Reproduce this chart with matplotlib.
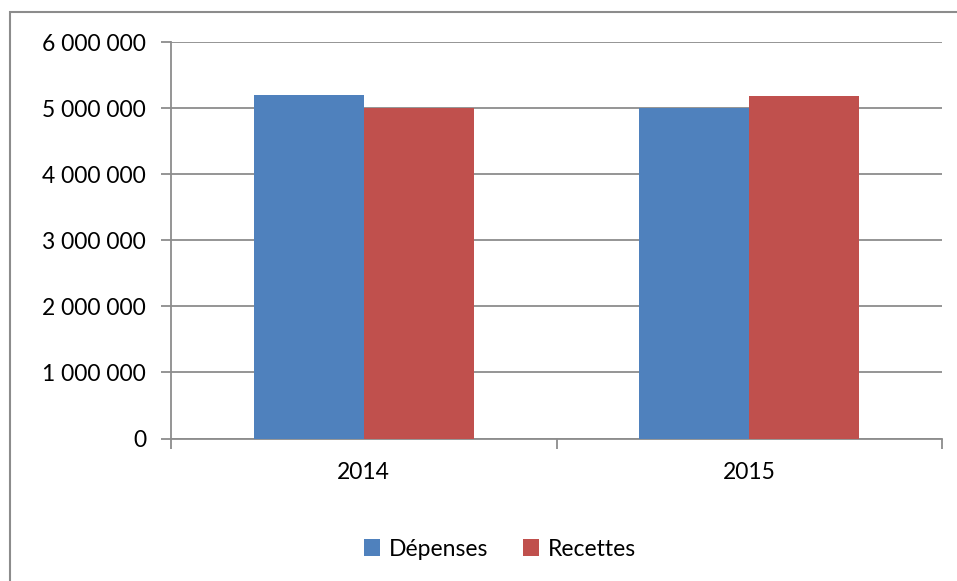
import numpy as np
import matplotlib
matplotlib.use('Agg')
import matplotlib.pyplot as plt
from matplotlib.patches import Rectangle
from matplotlib.ticker import FuncFormatter, FixedLocator

years = ['2014', '2015']
depenses = [5200000, 5005000]
recettes = [5010000, 5180000]
y_ticks = [0, 1000000, 2000000, 3000000, 4000000, 5000000, 6000000]

plt.rcParams['font.family'] = ['Lato', 'DejaVu Sans']

fig = plt.figure(figsize=(9.57, 5.81), dpi=100)
ax = fig.add_axes([171 / 957, 1 - 438.5 / 581, (942 - 171) / 957, (438.5 - 42.3) / 581])

# frame around the whole chart (cut off at right and bottom, like the original)
fig.patches.append(Rectangle((10 / 957, -0.1), 1.2, 1 - 12 / 581 + 0.1,
                             transform=fig.transFigure, fill=False,
                             edgecolor='#8c8c8c', linewidth=1.5, zorder=0))

x = np.arange(len(years))
w = 0.2857
ax.bar(x - w / 2, depenses, w, color='#4F81BD', label='Dépenses', zorder=3)
ax.bar(x + w / 2, recettes, w, color='#C0504D', label='Recettes', zorder=3)

ax.set_xlim(-0.5, len(years) - 0.5)
ax.set_ylim(0, 6000000)
ax.yaxis.set_major_locator(FixedLocator(y_ticks))
ax.yaxis.set_major_formatter(FuncFormatter(lambda v, p: f'{int(v):,}'.replace(',', ' ')))
ax.grid(axis='y', color='#8c8c8c', linewidth=1.3, zorder=0)

ax.set_xticks(x)
ax.set_xticklabels(years)
ax.set_xticks(np.arange(-0.5, len(years)), minor=True)
ax.tick_params(axis='x', which='major', length=0, pad=17, labelsize=16.5)
ax.tick_params(axis='x', which='minor', length=7, width=1.3, color='#8c8c8c', direction='out')
ax.tick_params(axis='y', length=7, width=1.3, color='#8c8c8c', pad=11, labelsize=16.5)

for s in ['top', 'right']:
    ax.spines[s].set_visible(False)
for s in ['left', 'bottom']:
    ax.spines[s].set_color('#8c8c8c')
    ax.spines[s].set_linewidth(1.3)

ax.legend(loc='center', bbox_to_anchor=(500 / 957, 1 - 549 / 581),
          bbox_transform=fig.transFigure, frameon=False, ncol=2, fontsize=16.5,
          handlelength=0.7, handleheight=0.7, handletextpad=0.4, columnspacing=1.5)

fig.savefig('out.png', dpi=100)
